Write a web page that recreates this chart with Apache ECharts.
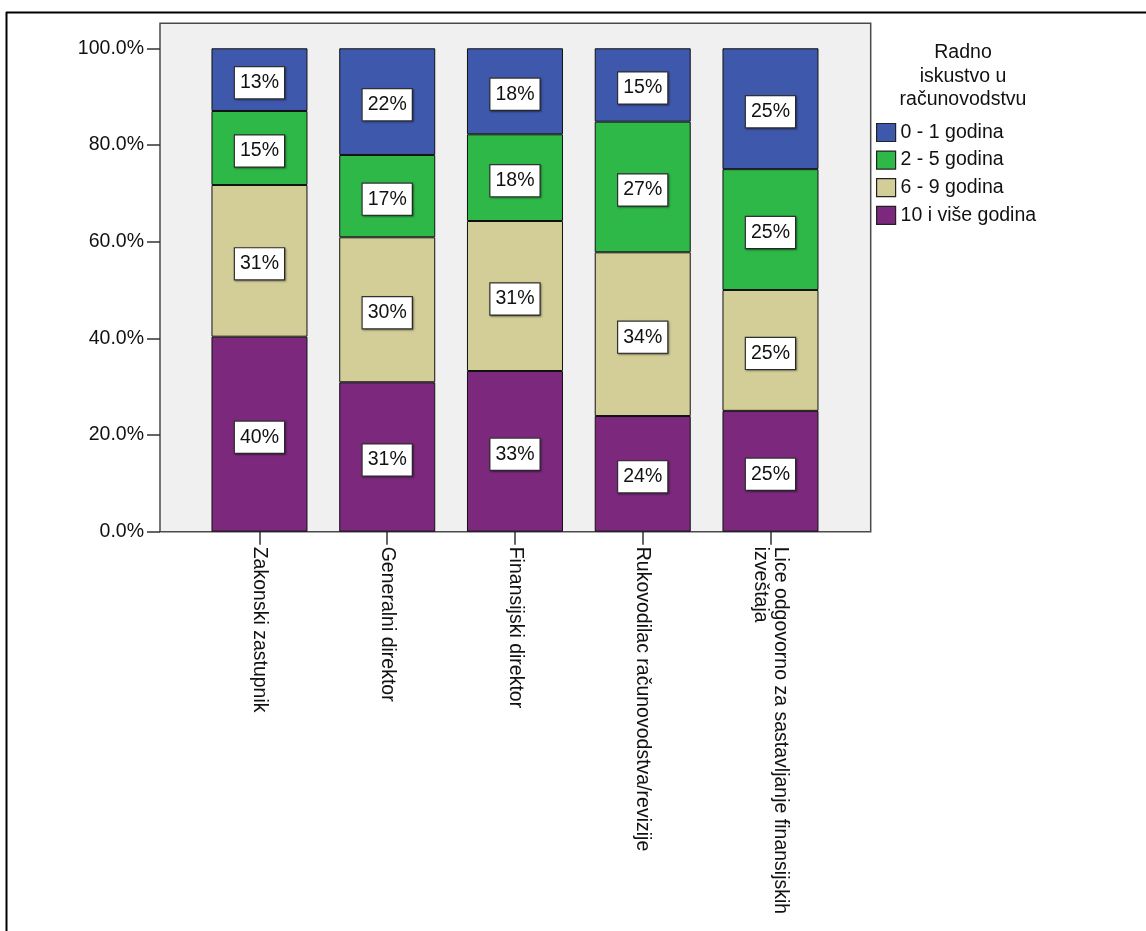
<!DOCTYPE html>
<html>
<head>
<meta charset="utf-8">
<script src="https://cdn.jsdelivr.net/npm/echarts@6/dist/echarts.min.js"></script>
<style>
html,body{margin:0;padding:0;background:#fff;}
#chart{width:1146px;height:931px;}
</style>
</head>
<body>
<div id="chart"></div>
<script>
var categories = [
  'Zakonski zastupnik',
  'Generalni direktor',
  'Finansijski direktor',
  'Rukovodilac računovodstva/revizije',
  'Lice odgovorno za sastavljanje finansijskih\nizveštaja'
];
var seriesNames = ['0 - 1 godina', '2 - 5 godina', '6 - 9 godina', '10 i više godina'];
var val0to1 = [12.97, 22.07, 17.79, 15.18, 25];
var val2to5 = [15.31, 17.03, 17.94, 27.02, 25];
var val6to9 = [31.38, 29.99, 31.03, 33.87, 25];
var val10plus = [40.34, 30.91, 33.24, 23.93, 25];
var yTicks = [0, 20, 40, 60, 80, 100];
var legendTitle = 'Radno\niskustvo u\nračunovodstvu';

var FONT = 'Liberation Sans, Arial, sans-serif';
var FS = 19.5;
var colors = {'0 - 1 godina':'#3e58ac','2 - 5 godina':'#2eb848','6 - 9 godina':'#d3ce97','10 i više godina':'#7b287d'};

function mk(name, data){
  return {
    name: name, type: 'bar', stack: 'total', xAxisIndex: 1, yAxisIndex: 1,
    data: data, barWidth: 96,
    itemStyle: {color: colors[name], borderColor: '#111', borderWidth: 1},
    label: {
      show: true, position: 'inside', offset: [0, 3],
      formatter: function(p){ return Math.round(p.value) + '%'; },
      color: '#111', fontFamily: FONT, fontSize: FS,
      backgroundColor: '#fff', borderColor: '#333', borderWidth: 1.2,
      padding: [6, 5, 5, 5],
      shadowColor: 'rgba(0,0,0,0.35)', shadowBlur: 2, shadowOffsetX: 1, shadowOffsetY: 1
    },
    emphasis: {disabled: true}
  };
}

var chart = echarts.init(document.getElementById('chart'));
chart.setOption({
  animation: false,
  textStyle: {fontFamily: FONT},
  title: {
    text: legendTitle, left: 958, top: 36, textAlign: 'center',
    textStyle: {fontFamily: FONT, fontSize: FS, fontWeight: 'normal', color: '#111', lineHeight: 23.5}
  },
  legend: {
    orient: 'vertical', left: 876, top: 122.5, padding: 0,
    icon: 'rect',
    itemWidth: 19, itemHeight: 18, itemGap: 7.6,
    data: seriesNames,
    itemStyle: {borderColor: '#222', borderWidth: 1.2},
    textStyle: {fontFamily: FONT, fontSize: FS, color: '#111'},
    selectedMode: false
  },
  grid: [
    {left: 160, top: 23.3, width: 710.7, height: 508.4, show: true,
     backgroundColor: '#f0f0f0', borderColor: '#4a4a4a', borderWidth: 1.5},
    {left: 195.6, top: 23.3, width: 638.75, height: 508.4}
  ],
  xAxis: [
    {gridIndex: 0, type: 'value', show: false},
    {gridIndex: 1, type: 'category', data: categories,
     axisLine: {show: false},
     axisTick: {show: true, alignWithLabel: true, length: 13, lineStyle: {color: '#333', width: 1.5}},
     axisLabel: {interval: 0, rotate: -90, margin: 15, color: '#111', fontFamily: FONT, fontSize: FS, lineHeight: 20}
    }
  ],
  yAxis: [
    {gridIndex: 0, type: 'value', show: false},
    {gridIndex: 1, type: 'value', min: 0, max: 105.17, interval: 20, offset: 35.6,
     splitLine: {show: false},
     axisLine: {show: false},
     axisTick: {show: true, length: 13, customValues: yTicks, lineStyle: {color: '#333', width: 1.5}},
     axisLabel: {customValues: yTicks, margin: 16, color: '#111', fontFamily: FONT, fontSize: FS,
       formatter: function(v){ return v.toFixed(1) + '%'; }}
    }
  ],
  graphic: [
    {type: 'line', shape: {x1: 6.5, y1: 12, x2: 6.5, y2: 931}, style: {stroke: '#000', lineWidth: 2}},
    {type: 'line', shape: {x1: 6, y1: 12.5, x2: 1146, y2: 12.5}, style: {stroke: '#000', lineWidth: 2}}
  ],
  series: [
    mk('10 i više godina', val10plus),
    mk('6 - 9 godina', val6to9),
    mk('2 - 5 godina', val2to5),
    mk('0 - 1 godina', val0to1)
  ]
});
</script>
</body>
</html>
